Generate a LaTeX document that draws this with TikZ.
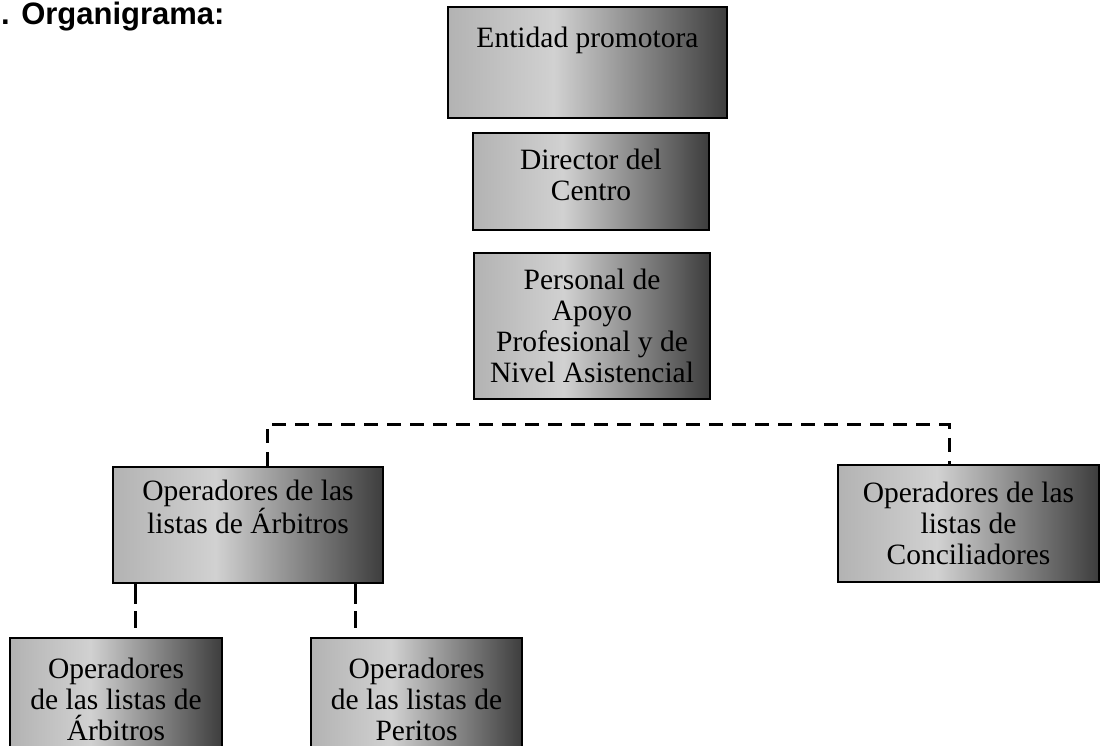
\documentclass[tikz,border=0pt]{standalone}
\usepackage{fontspec}
\setmainfont{Liberation Serif}
\newfontfamily\titlefont{Liberation Sans}
\usepackage{tikz}
\usetikzlibrary{positioning,calc}

\pgfdeclarehorizontalshading{boxshade}{100bp}{color(0bp)=(black!30); color(25bp)=(black!30); color(44bp)=(black!18); color(75bp)=(black!76); color(100bp)=(black!76)}

\begin{document}
\begin{tikzpicture}[
  x=1pt, y=-1pt,
  unit/.style={rectangle, draw=black, line width=2.5pt, shading=boxshade, align=center, inner sep=0pt, font=\fontsize{29.5}{31}\selectfont},
  link/.style={draw=black, line width=3pt, dash pattern=on 14pt off 9pt},
  stub/.style={draw=black, line width=3pt, dash pattern=on 20pt off 7pt on 17pt off 30pt}
]
\useasboundingbox (0,0) rectangle (1101,746);

% Title
\node[anchor=base west, inner sep=0pt, font=\titlefont\bfseries\fontsize{31}{31}\selectfont] (title) at (1,24.5) {. Organigrama:};

% Top column
\node[unit, minimum width=279, minimum height=111, text depth=50pt] (entidad) at (587.5,62.5) {Entidad promotora};
\node[unit, minimum width=236, minimum height=97, text depth=14pt] (director) at (591,181.5) {Director del\\Centro};
\node[unit, minimum width=236, minimum height=146] (personal) at (592,326) {Personal de\\Apoyo\\Profesional y de\\Nivel Asistencial};

% Second level
\node[unit, minimum width=270, minimum height=116, text depth=37pt] (arbitros) at (248,525) {Operadores de las\\listas de Árbitros};
\node[unit, minimum width=261, minimum height=117] (concil) at (968.5,523.5) {Operadores de las\\listas de\\Conciliadores};

% Third level
\node[unit, minimum width=212, minimum height=122] (oparb) at (116,699) {Operadores\\de las listas de\\Árbitros};
\node[unit, minimum width=211, minimum height=122] (peritos) at (416.5,699) {Operadores\\de las listas de\\Peritos};

% Connections
\draw[link] ([xshift=19pt]arbitros.north) -- ++(0,-41) -| ([xshift=-19.5pt]concil.north);
\coordinate (arbL) at ([xshift=-113pt]arbitros.south);
\coordinate (arbR) at ([xshift=107pt]arbitros.south);
\draw[stub] (arbL) -- (arbL |- oparb.north);
\draw[stub] (arbR) -- (arbR |- peritos.north);

\end{tikzpicture}
\end{document}
